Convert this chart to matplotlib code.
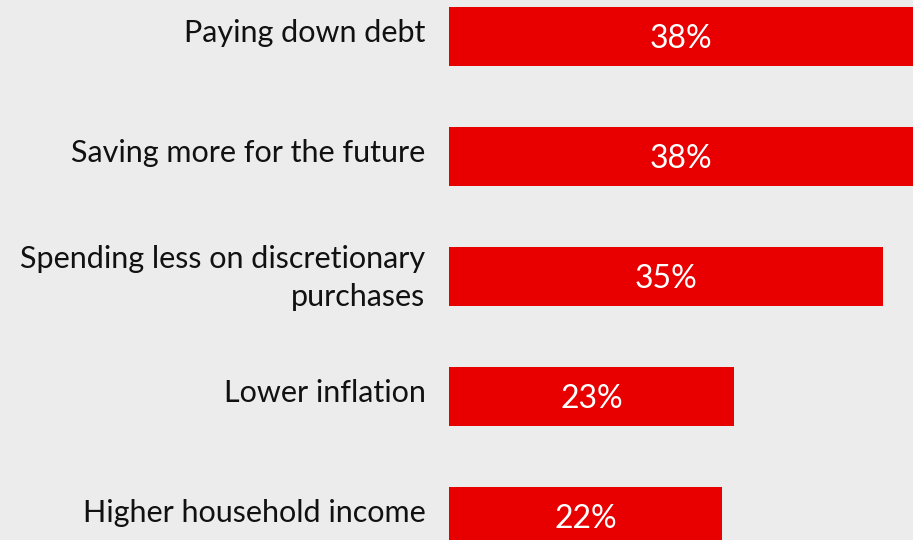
import matplotlib
matplotlib.use("Agg")
import matplotlib.pyplot as plt
from matplotlib.transforms import ScaledTranslation

categories = [
    "Paying down debt",
    "Saving more for the future",
    "Spending less on discretionary\npurchases",
    "Lower inflation",
    "Higher household income",
]
values = [38, 38, 35, 23, 22]
value_labels = ["38%", "38%", "35%", "23%", "22%"]

plt.rcParams["font.family"] = ["Lato", "DejaVu Sans"]

BG = "#ececec"
RED = "#e80000"

fig = plt.figure(figsize=(9.13, 5.4), dpi=100, facecolor=BG)
ax = fig.add_axes([449 / 913, 0, 1 - 449 / 913, 1], facecolor=BG)

pos = list(range(len(categories)))
ax.barh(pos, values, height=0.49, color=RED, edgecolor="none")
ax.set_xlim(0, (913 - 449) / 12.4)
ax.set_ylim(4.196, -0.304)

# value labels centred on the visible part of each bar
xmax = ax.get_xlim()[1]
for p, v, lab in zip(pos, values, value_labels):
    ax.text(min(v, xmax) / 2, p, lab, ha="center", va="center_baseline",
            color="white", fontsize=23)

ax.set_yticks(pos)
ax.set_yticklabels(categories, fontsize=22, color="#111111",
                   linespacing=1.45)
ax.tick_params(axis="y", length=0, pad=17)
ax.set_xticks([])
for s in ax.spines.values():
    s.set_visible(False)

# nudge category labels slightly upward
lift = ScaledTranslation(0, 6 / 100, fig.dpi_scale_trans)
for t in ax.get_yticklabels():
    t.set_transform(t.get_transform() + lift)

fig.savefig("out.png", dpi=100, facecolor=BG)
